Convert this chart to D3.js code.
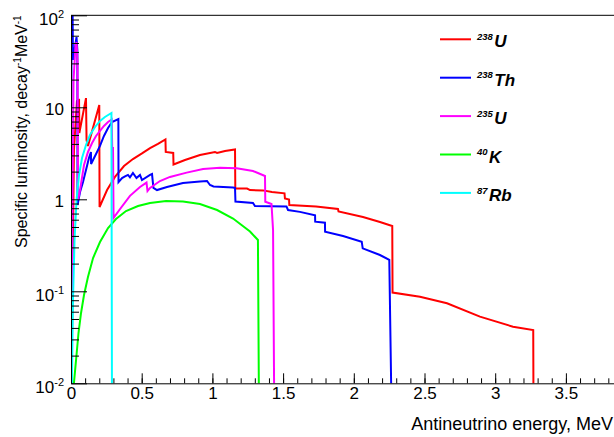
<!DOCTYPE html>
<html>
<head>
<meta charset="utf-8">
<script src="https://cdn.jsdelivr.net/npm/d3@7"></script>
<style>
  body { margin: 0; background: #fff; }
  svg { display: block; font-family: "Liberation Sans", Arial, Helvetica, sans-serif; }
</style>
</head>
<body>
<div id="chart"></div>
<script>
// axis ticks
const xTicks = [0, 0.5, 1, 1.5, 2, 2.5, 3, 3.5];
const xTickLabels = ["0", "0.5", "1", "1.5", "2", "2.5", "3", "3.5"];
const yTicks = [0.01, 0.1, 1, 10, 100];
const yTickBase = ["10", "10", "1", "10", "10"];
const yTickExp = ["-2", "-1", "", "", "2"];

// legend entries
const isotopeMass = ["238", "238", "235", "40", "87"];
const isotopeSymbol = ["U", "Th", "U", "K", "Rb"];

// spectra, [energy MeV, decay^-1 MeV^-1]
const u238 = [
  [0.003, 0.008], [0.021, 3.43], [0.042, 11.7], [0.057, 12.0], [0.059, 5.26],
  [0.106, 12.6], [0.110, 4.41], [0.120, 3.80], [0.200, 10.6], [0.202, 0.825],
  [0.255, 1.26], [0.311, 1.75], [0.375, 2.30], [0.438, 2.74], [0.502, 3.15],
  [0.559, 3.6], [0.615, 4.0], [0.668, 4.47], [0.670, 3.27], [0.723, 3.19],
  [0.725, 2.39], [0.806, 2.67], [0.912, 3.03], [1.018, 3.27], [1.033, 3.19],
  [1.089, 3.35], [1.160, 3.48], [1.162, 1.31], [1.245, 1.31], [1.266, 1.26],
  [1.358, 1.25], [1.421, 1.20], [1.510, 1.16], [1.513, 1.02], [1.542, 0.995],
  [1.544, 0.867], [1.733, 0.835], [1.888, 0.785], [1.892, 0.737], [2.065, 0.642],
  [2.185, 0.567], [2.272, 0.513], [2.274, 0.097], [2.468, 0.0873], [2.659, 0.0741],
  [2.892, 0.0530], [3.126, 0.0412], [3.269, 0.0379], [3.271, 0.004]
];
const th232 = [
  [0.001, 0.009], [0.0035, 120], [0.011, 120], [0.014, 32.7], [0.025, 42],
  [0.039, 58], [0.045, 42], [0.046, 0.867], [0.064, 1.20], [0.085, 1.54],
  [0.106, 2.08], [0.127, 2.81], [0.141, 3.27], [0.142, 2.42], [0.170, 2.96],
  [0.205, 3.80], [0.233, 4.88], [0.262, 5.96], [0.290, 6.92], [0.335, 7.46],
  [0.336, 1.54], [0.361, 1.70], [0.382, 1.77], [0.403, 1.84], [0.417, 1.73],
  [0.438, 1.93], [0.463, 1.70], [0.488, 1.84], [0.502, 1.62], [0.559, 1.84],
  [0.573, 1.88], [0.583, 1.33], [0.608, 1.26], [0.679, 1.36], [0.792, 1.50],
  [0.912, 1.56], [0.962, 1.58], [0.983, 1.43], [1.008, 1.38], [1.146, 1.34],
  [1.160, 1.33], [1.163, 0.946], [1.287, 0.911], [1.301, 0.845], [1.524, 0.835],
  [1.535, 0.765], [1.619, 0.73], [1.726, 0.67], [1.727, 0.571], [1.796, 0.557],
  [1.797, 0.445], [1.924, 0.399], [2.056, 0.346], [2.063, 0.293], [2.185, 0.248],
  [2.251, 0.219], [2.268, 0.004]
];
const u235 = [
  [0.0035, 0.0283], [0.011, 0.98], [0.018, 19.8], [0.032, 47.6], [0.039, 51.3],
  [0.046, 32.7], [0.050, 0.99], [0.064, 1.26], [0.092, 2.36], [0.120, 3.27],
  [0.149, 4.09], [0.177, 4.88], [0.205, 5.53], [0.233, 6.27], [0.262, 6.92],
  [0.288, 7.37], [0.292, 3.27], [0.297, 3.70], [0.301, 0.627], [0.347, 0.785],
  [0.417, 1.09], [0.488, 1.36], [0.534, 1.52], [0.541, 1.23], [0.559, 1.33],
  [0.629, 1.58], [0.700, 1.75], [0.818, 1.95], [0.934, 2.13], [1.054, 2.20],
  [1.172, 2.17], [1.287, 2.03], [1.372, 1.79], [1.374, 0.942], [1.418, 0.889],
  [1.429, 0.463], [1.438, 0.004]
];
const k40 = [
  [0.015, 0.008], [0.028, 0.0133], [0.039, 0.0203], [0.053, 0.0352], [0.071, 0.0581],
  [0.092, 0.0912], [0.120, 0.143], [0.156, 0.230], [0.205, 0.343], [0.262, 0.488],
  [0.318, 0.611], [0.389, 0.746], [0.474, 0.845], [0.559, 0.911], [0.672, 0.959],
  [0.792, 0.946], [0.912, 0.889], [1.033, 0.765], [1.146, 0.618], [1.266, 0.447],
  [1.322, 0.361], [1.330, 0.004]
];
const rb87 = [
  [0.006, 0.009], [0.014, 0.0804], [0.025, 0.361], [0.039, 0.982], [0.057, 1.84],
  [0.078, 2.81], [0.106, 3.89], [0.134, 5.00], [0.170, 6.11], [0.205, 7.10],
  [0.240, 7.85], [0.286, 8.67], [0.290, 0.004]
];

const series = [u238, th232, u235, k40, rb87];
const colors = ["#ff0000", "#0000ff", "#ff00ff", "#00ff00", "#00ffff"];

const width = 614, height = 437;
const plotLeft = 71, plotTop = 15.3, plotBottom = 383.3;

const svg = d3.select("#chart").append("svg")
  .attr("width", width)
  .attr("height", height);

const x = d3.scaleLinear().domain([0, 4]).range([plotLeft, plotLeft + 4 * 141.4]);
const y = d3.scaleLog().domain([0.01, 100]).range([plotBottom, plotTop]);

svg.append("clipPath").attr("id", "plot")
  .append("rect")
  .attr("x", plotLeft).attr("y", plotTop)
  .attr("width", width - plotLeft).attr("height", plotBottom - plotTop);

// curves
const line = d3.line().x((d) => x(d[0])).y((d) => y(d[1]));
svg.append("g")
  .attr("clip-path", "url(#plot)")
  .selectAll("path")
  .data(series)
  .join("path")
  .attr("d", line)
  .attr("fill", "none")
  .attr("stroke", (d, i) => colors[i])
  .attr("stroke-width", 2)
  .attr("stroke-linejoin", "miter");

// x axis: minor + major ticks pointing up
const xMinor = d3.range(0, 40).map((i) => i / 10);
svg.append("g")
  .attr("transform", `translate(0,${plotBottom})`)
  .call(d3.axisBottom(x).tickValues(xMinor).tickSize(-5).tickFormat(""))
  .call((g) => g.select(".domain").remove());
const xAxis = svg.append("g")
  .attr("transform", `translate(0,${plotBottom})`)
  .call(d3.axisBottom(x).tickValues(xTicks).tickSize(-10).tickPadding(4)
    .tickFormat((d, i) => xTickLabels[i]));
xAxis.select(".domain").remove();
xAxis.selectAll("text").attr("font-size", 17).attr("fill", "#000");
xAxis.attr("font-family", null);

// y axis: log minor + major ticks pointing right
const yMinor = [];
[0.01, 0.1, 1, 10].forEach((dec) => {
  for (let k = 2; k <= 9; k++) yMinor.push(dec * k);
});
svg.append("g")
  .attr("transform", `translate(${plotLeft},0)`)
  .call(d3.axisLeft(y).tickValues(yMinor).tickSize(-8).tickFormat(""))
  .call((g) => g.select(".domain").remove());
svg.append("g")
  .attr("transform", `translate(${plotLeft},0)`)
  .call(d3.axisLeft(y).tickValues(yTicks).tickSize(-16).tickFormat(""))
  .call((g) => g.select(".domain").remove());

const yLab = svg.append("g").attr("font-size", 17).attr("text-anchor", "end");
yTicks.forEach((v, i) => {
  const t = yLab.append("text")
    .attr("x", 64)
    .attr("y", y(v) + (yTickExp[i] ? 9.5 : 8));
  t.append("tspan").text(yTickBase[i]);
  if (yTickExp[i]) {
    t.append("tspan").attr("font-size", 11).attr("dy", -7).text(yTickExp[i]);
  }
});

// frame
svg.append("path")
  .attr("d", `M${plotLeft + 0.5},${plotTop}V${plotBottom + 0.5}H${width}M${plotLeft},${plotTop}H${width}`)
  .attr("fill", "none")
  .attr("stroke", "#000")
  .attr("stroke-width", 1);

// axis titles
svg.append("text")
  .attr("x", 613)
  .attr("y", 430)
  .attr("text-anchor", "end")
  .attr("font-size", 18)
  .text("Antineutrino energy, MeV");

const yTitle = svg.append("text")
  .attr("transform", `translate(27,${plotTop}) rotate(-90)`)
  .attr("text-anchor", "end")
  .attr("font-size", 16);
yTitle.append("tspan").text("Specific luminosity, decay");
yTitle.append("tspan").attr("font-size", 10).attr("dy", -6).text("-1");
yTitle.append("tspan").attr("dy", 6).text("MeV");
yTitle.append("tspan").attr("font-size", 10).attr("dy", -6).text("-1");

// legend
const legend = svg.append("g");
isotopeSymbol.forEach((sym, i) => {
  const ly = 39.3 + i * 38.4;
  legend.append("line")
    .attr("x1", 440).attr("x2", 471)
    .attr("y1", ly).attr("y2", ly)
    .attr("stroke", colors[i])
    .attr("stroke-width", 2);
  const t = legend.append("text")
    .attr("x", 477)
    .attr("y", ly + 8)
    .attr("font-style", "italic")
    .attr("font-weight", "bold");
  t.append("tspan").attr("font-size", 9.5).attr("dy", -7.3).text(isotopeMass[i]);
  t.append("tspan").attr("font-size", 17).attr("dy", 7.3).attr("dx", 1.5).text(sym);
});
</script>
</body>
</html>
